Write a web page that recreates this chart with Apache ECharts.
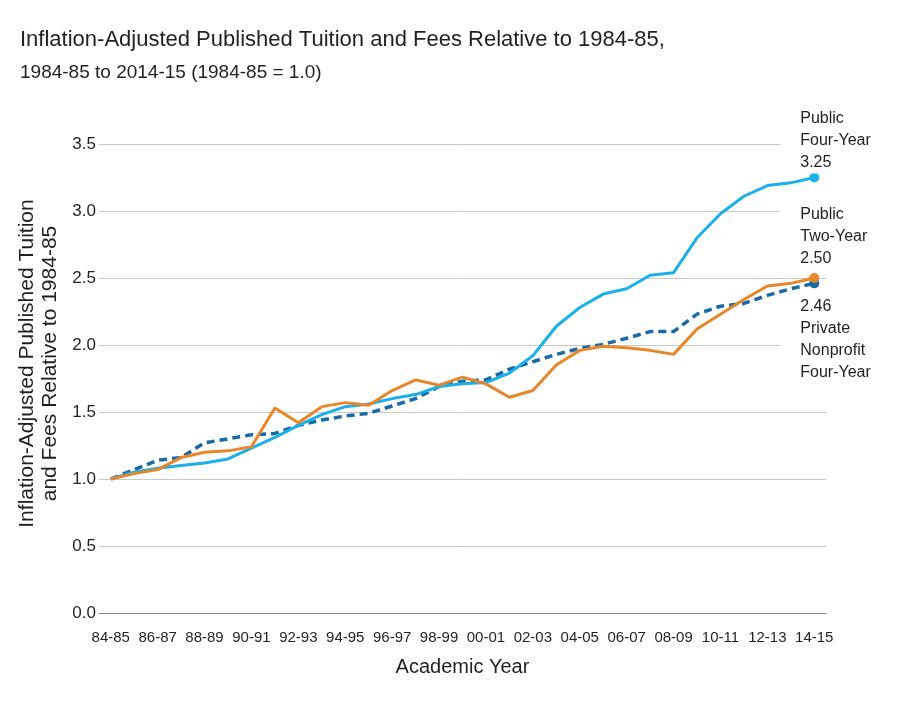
<!DOCTYPE html>
<html>
<head>
<meta charset="utf-8">
<script src="https://cdn.jsdelivr.net/npm/echarts@6/dist/echarts.min.js"></script>
<style>
html,body{margin:0;padding:0;background:#fff;}
#chart{width:900px;height:720px;}
</style>
</head>
<body>
<div id="chart"></div>
<script>
const categories = ["84-85","85-86","86-87","87-88","88-89","89-90","90-91","91-92","92-93","93-94","94-95","95-96","96-97","97-98","98-99","99-00","00-01","01-02","02-03","03-04","04-05","05-06","06-07","07-08","08-09","09-10","10-11","11-12","12-13","13-14","14-15"];
const publicFourYear = [1.00,1.05,1.08,1.10,1.12,1.15,1.23,1.31,1.40,1.48,1.54,1.56,1.60,1.63,1.69,1.71,1.72,1.79,1.92,2.14,2.28,2.38,2.42,2.52,2.54,2.80,2.98,3.11,3.19,3.21,3.25];
const publicTwoYear = [1.00,1.04,1.07,1.16,1.20,1.21,1.24,1.53,1.42,1.54,1.57,1.55,1.66,1.74,1.70,1.76,1.71,1.61,1.66,1.85,1.96,1.99,1.98,1.96,1.93,2.12,2.23,2.34,2.44,2.46,2.50];
const privateNonprofit = [1.00,1.07,1.14,1.16,1.27,1.30,1.33,1.34,1.40,1.44,1.47,1.49,1.545,1.60,1.69,1.73,1.74,1.82,1.875,1.93,1.975,2.005,2.05,2.10,2.10,2.23,2.29,2.31,2.37,2.42,2.46];
const yTicks = [0,0.5,1,1.5,2,2.5,3,3.5];
const seriesNames = ["Public\nFour-Year","Public\nTwo-Year","Private\nNonprofit\nFour-Year"];

const FONT = '"Liberation Sans",Arial,sans-serif';
const TXT = '#231f20';
const C_P4 = '#1cb0ea';
const C_P2 = '#e8862a';
const C_PN = '#1b6aa8';

function withEnd(arr, label){
  return arr.map((v,i)=> i===arr.length-1 ? {value:v, symbol:'circle', symbolSize:10, label:label} : {value:v, symbol:'none'});
}
const labelBase = {show:true, fontFamily:FONT, fontSize:16, color:TXT, lineHeight:22, align:'left', backgroundColor:'#fff', padding:[0,30,0,20]};

const chart = echarts.init(document.getElementById('chart'), null, {renderer:'canvas'});
chart.setOption({
  backgroundColor:'#fff',
  animation:false,
  title:{
    left:15, top:24, itemGap:12,
    text:'Inflation-Adjusted Published Tuition and Fees Relative to 1984-85,',
    subtext:'1984-85 to 2014-15 (1984-85 = 1.0)',
    textStyle:{fontFamily:FONT, fontSize:22, fontWeight:'normal', color:TXT},
    subtextStyle:{fontFamily:FONT, fontSize:19, color:TXT}
  },
  grid:{left:99, right:74, top:144, bottom:107},
  xAxis:{
    type:'category', data:categories, boundaryGap:true,
    name:'Academic Year', nameLocation:'middle', nameGap:44,
    nameTextStyle:{fontFamily:FONT, fontSize:20, color:TXT},
    axisLine:{lineStyle:{color:'#8a8a8a', width:1}},
    axisTick:{alignWithLabel:true, interval:0, length:11, lineStyle:{color:'#8a8a8a'}},
    axisLabel:{interval:1, margin:17, fontFamily:FONT, fontSize:15, color:TXT},
    splitLine:{show:false}
  },
  yAxis:{
    type:'value', min:0, max:3.5, interval:0.5,
    name:'Inflation-Adjusted Published Tuition\nand Fees Relative to 1984-85',
    nameLocation:'middle', nameGap:19, nameRotate:90,
    nameTextStyle:{fontFamily:FONT, fontSize:21, color:TXT, lineHeight:23, align:'center', padding:[0,0,0,30]},
    axisLine:{show:false}, axisTick:{show:false},
    axisLabel:{margin:3, fontFamily:FONT, fontSize:17, color:TXT, formatter:v=>v.toFixed(1)},
    splitLine:{lineStyle:{color:'#c8c8c8', width:1}}
  },
  series:[
    {
      name:seriesNames[0], type:'line', z:3,
      data:withEnd(publicFourYear, Object.assign({}, labelBase, {position:'top', distance:-1, offset:[-34,0],
        formatter:p=>seriesNames[0]+'\n'+p.value.toFixed(2)})),
      lineStyle:{color:C_P4, width:3}, itemStyle:{color:C_P4}
    },
    {
      name:seriesNames[1], type:'line', z:4,
      data:withEnd(publicTwoYear, Object.assign({}, labelBase, {position:'top', distance:3, offset:[-34,0],
        formatter:p=>seriesNames[1]+'\n'+p.value.toFixed(2)})),
      lineStyle:{color:C_P2, width:3}, itemStyle:{color:C_P2}
    },
    {
      name:seriesNames[2], type:'line', z:2,
      data:withEnd(privateNonprofit, Object.assign({}, labelBase, {position:'bottom', distance:7, offset:[-34,0],
        formatter:p=>p.value.toFixed(2)+'\n'+seriesNames[2]})),
      lineStyle:{color:C_PN, width:3.5, type:[8,5]}, itemStyle:{color:C_PN}
    }
  ]
});
</script>
</body>
</html>
